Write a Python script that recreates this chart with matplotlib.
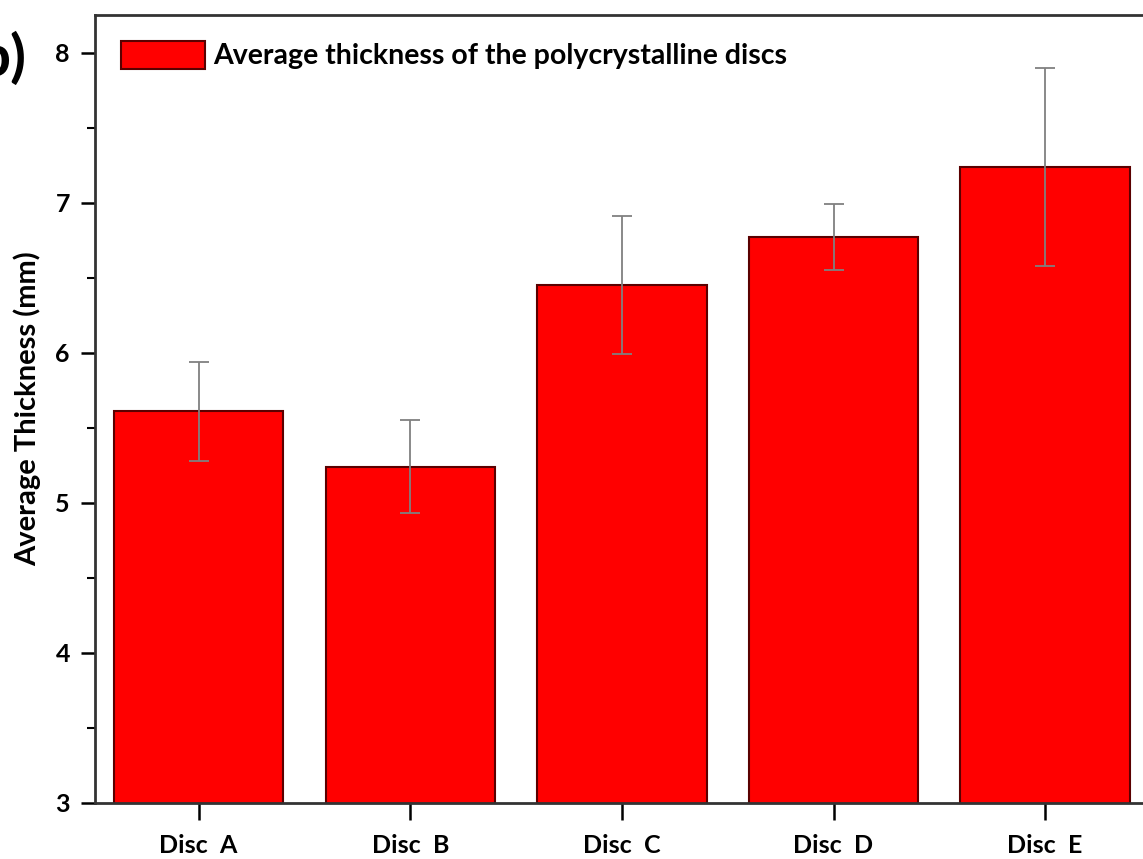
import matplotlib.pyplot as plt
from matplotlib.ticker import MultipleLocator

# Average thickness of each disc with its standard deviation
discs = ["Disc  A", "Disc  B", "Disc  C", "Disc  D", "Disc  E"]
thickness = [5.61, 5.24, 6.45, 6.77, 7.24]
thickness_err = [0.33, 0.31, 0.46, 0.22, 0.66]

plt.rcParams['font.family'] = ['Lato', 'DejaVu Sans']
plt.rcParams['font.weight'] = 'bold'

fig = plt.figure(figsize=(11.43, 8.59), dpi=100)
ax = fig.add_axes([0.0831, 0.0652, 0.922, 0.9173])

pos = list(range(1, len(discs) + 1))
ax.bar(pos, thickness, width=0.8, color='#ff0000', edgecolor='#5a0000',
       linewidth=1.5, label='Average thickness of the polycrystalline discs')
ax.errorbar(pos, thickness, yerr=thickness_err, fmt='none', ecolor='#808080',
            elinewidth=1.3, capsize=7, capthick=1.3)

ax.set_xlim(0.51, 5.49)
ax.set_ylim(3, 8.25)
ax.set_xticks(pos)
ax.set_xticklabels(discs, fontsize=18, fontweight='bold')
ax.yaxis.set_major_locator(MultipleLocator(1))
ax.yaxis.set_minor_locator(MultipleLocator(0.5))
ax.tick_params(axis='y', which='major', direction='out', length=10, width=1.8,
               labelsize=18, pad=8)
ax.tick_params(axis='y', which='minor', direction='out', length=6, width=1.5)
ax.tick_params(axis='x', direction='out', length=12, width=1.8, labelsize=18,
               pad=10)
for lbl in ax.get_yticklabels():
    lbl.set_fontweight('bold')
for sp in ax.spines.values():
    sp.set_linewidth(2)
    sp.set_color('#333333')

ax.set_ylabel("Average Thickness (mm)", fontsize=21, fontweight='bold',
              labelpad=10)

leg = ax.legend(loc='upper left', frameon=False,
                handlelength=2.95, handleheight=1.15, borderaxespad=0.5,
                handletextpad=0.3, prop={'weight': 'bold', 'size': 20.5})

fig.text(-0.02, 0.912, "b)", fontsize=42, fontweight='bold')

fig.savefig("out.png", dpi=100)
